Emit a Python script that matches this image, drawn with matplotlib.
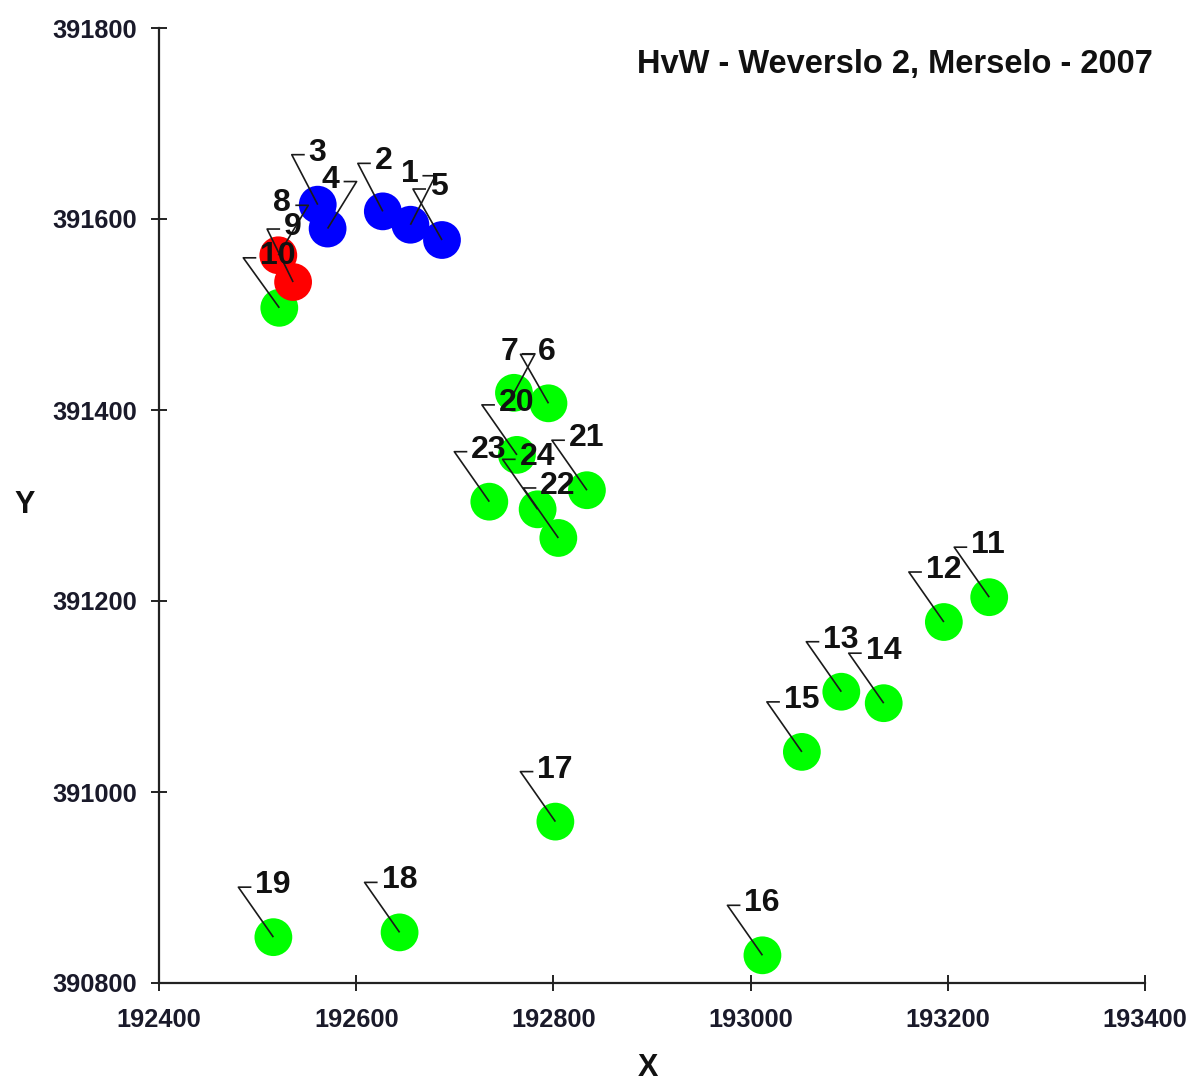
import matplotlib
matplotlib.use('Agg')
import matplotlib.pyplot as plt

# ---------------- data ----------------
point_ids = [str(i) for i in range(1, 25)]
x_vals = [192655, 192627, 192561, 192571, 192687, 192795, 192760, 192521,
          192536, 192522, 193242, 193196, 193092, 193135, 193052, 193012,
          192802, 192644, 192516, 192763, 192834, 192805, 192735, 192784]
y_vals = [391594, 391608, 391615, 391590, 391578, 391407, 391418, 391562,
          391534, 391507, 391204, 391178, 391105, 391093, 391042, 390829,
          390969, 390853, 390848, 391353, 391316, 391266, 391304, 391296]
groups = ['B', 'B', 'B', 'B', 'B', 'G', 'G', 'R', 'R', 'G', 'G', 'G',
          'G', 'G', 'G', 'G', 'G', 'G', 'G', 'G', 'G', 'G', 'G', 'G']
x_ticks = [192400, 192600, 192800, 193000, 193200, 193400]
y_ticks = [390800, 391000, 391200, 391400, 391600, 391800]
title = 'HvW - Weverslo 2, Merselo - 2007'

# ---------------- styles ----------------
colors = {'G': '#00FF00', 'B': '#0000FF', 'R': '#FF0000'}
zorders = {'G': 2, 'B': 3, 'R': 4}
# leader corner offsets in image pixels (dx right, dy down), flip = label left of corner
default_off = (-35, -50, False)
label_off = {
    '1': (25, -49, True), '2': (-25, -48, False), '3': (-26, -50, False),
    '4': (29, -47, True), '5': (-29, -51, False), '6': (-28, -49, False),
    '7': (21, -39, True), '8': (30, -50, True), '9': (-26, -53, False),
    '10': (-36, -50, False),
}
SEG = 13
GAP = 4

FONT = ['Liberation Sans', 'DejaVu Sans']
plt.rcParams['font.family'] = FONT

W, H = 1192, 1091
fig = plt.figure(figsize=(W / 100, H / 100), dpi=100)
ax = fig.add_axes([159 / W, 1 - 983 / H, 986 / W, 955 / H])
ax.set_xlim(x_ticks[0], x_ticks[-1])
ax.set_ylim(y_ticks[0], y_ticks[-1])
ax.set_xticks(x_ticks)
ax.set_yticks(y_ticks)
ax.set_xticklabels([str(v) for v in x_ticks])
ax.set_yticklabels([str(v) for v in y_ticks])
for s in ['top', 'right']:
    ax.spines[s].set_visible(False)
for s in ['left', 'bottom']:
    ax.spines[s].set_linewidth(1.6)
    ax.spines[s].set_color('#222222')
    ax.spines[s].set_zorder(1)
ax.tick_params(axis='both', direction='inout', length=12, width=1.4,
               color='#222222', labelsize=18.3)
ax.tick_params(axis='y', pad=10)
ax.tick_params(axis='x', pad=12)
for lab in ax.get_xticklabels() + ax.get_yticklabels():
    lab.set_fontweight('bold')
    lab.set_color('#1a1a2a')

# markers
for g in ['G', 'B', 'R']:
    xs = [x for x, gg in zip(x_vals, groups) if gg == g]
    ys = [y for y, gg in zip(y_vals, groups) if gg == g]
    ax.scatter(xs, ys, s=740, color=colors[g], edgecolors='none',
               zorder=zorders[g], clip_on=False)

# labels with leaders
inv = ax.transData.inverted()
for pid, x, y in zip(point_ids, x_vals, y_vals):
    dx, dy, flip = label_off.get(pid, default_off)
    px, py = ax.transData.transform((x, y))
    cx, cy = px + dx, py - dy
    sx = cx - SEG if flip else cx + SEG
    pts = inv.transform([(px, py), (cx, cy), (sx, cy)])
    ax.plot(pts[:, 0], pts[:, 1], color='#1a1a1a', lw=1.2, zorder=6,
            clip_on=False, solid_capstyle='butt')
    tx = sx - GAP if flip else sx + GAP
    tpos = inv.transform([(tx, cy + 2)])[0]
    ax.text(tpos[0], tpos[1], pid, ha='right' if flip else 'left',
            va='center', fontsize=23, fontweight='bold', color='#111111',
            zorder=7, clip_on=False)

fig.text(1153 / W, 1 - 65 / H, title, ha='right', va='center',
         fontsize=23.5, fontweight='bold', color='#111111')
fig.text(648 / W, 1 - 1068 / H, 'X', ha='center', va='center',
         fontsize=22, fontweight='bold', color='#111111')
fig.text(25 / W, 1 - 505 / H, 'Y', ha='center', va='center',
         fontsize=22, fontweight='bold', color='#111111')

fig.savefig('out.png', dpi=100)
